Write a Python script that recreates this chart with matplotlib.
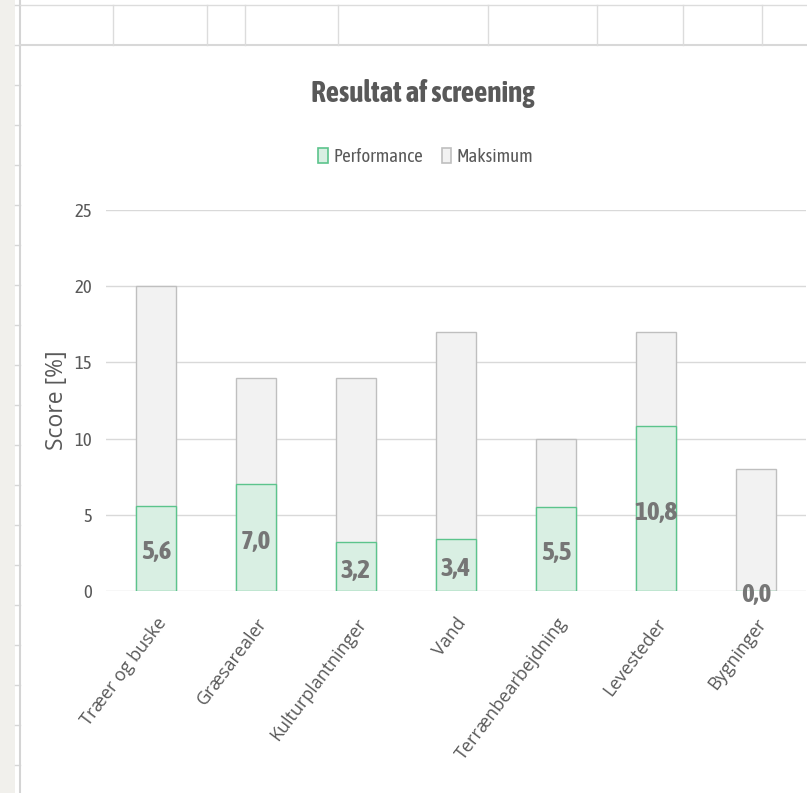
import matplotlib
matplotlib.use("Agg")
import matplotlib.pyplot as plt
from matplotlib.patches import Patch, Rectangle

# ---- data ----
categories = ["Træer og buske", "Græsarealer", "Kulturplantninger", "Vand",
              "Terrænbearbejdning", "Levesteder", "Bygninger"]
performance = [5.6, 7.0, 3.2, 3.4, 5.5, 10.8, 0.0]
maksimum = [20, 14, 14, 17, 10, 17, 8]
yticks = [0, 5, 10, 15, 20, 25]
title = "Resultat af screening"
ylabel = "Score [%]"
series_names = ["Performance", "Maksimum"]

NARROW = ["Asap Condensed", "DejaVu Sans"]
REG = ["Open Sans", "DejaVu Sans"]
TXT = "#595959"
LBL = "#767676"
PERF_FC, PERF_EC = "#d9efe3", "#5cc48c"
MAX_FC, MAX_EC = "#f2f2f2", "#bfbfbf"

W, H = 807, 793
fig = plt.figure(figsize=(W / 100, H / 100), dpi=100)
fig.patch.set_facecolor("white")

# ---- spreadsheet surroundings (decoration) ----
bg = fig.add_axes([0, 0, 1, 1], zorder=-10)
bg.set_xlim(0, W)
bg.set_ylim(H, 0)
bg.axis("off")
bg.add_patch(Rectangle((0, 0), 15, H, color="#f1f0ec", lw=0))
for yy in range(5, H, 40):
    bg.plot([15, 20], [yy, yy], color="#d6d6d6", lw=1)
bg.plot([20, 20], [0, H], color="#d4d4d4", lw=1.5)
bg.plot([20, W], [5, 5], color="#dcdcdc", lw=1)
bg.plot([20, W], [45, 45], color="#d8d8d8", lw=1.5)
for xx in [113, 207, 245, 338, 488, 597, 683, 762]:
    bg.plot([xx, xx], [5, 45], color="#dcdcdc", lw=1)

# ---- chart ----
ax = fig.add_axes([106 / W, (H - 591) / H, 700 / W, (591 - 210) / H])
x = list(range(len(categories)))
ax.bar(x, maksimum, width=0.4, color=MAX_FC, edgecolor=MAX_EC, lw=1, zorder=2)
ax.bar(x, performance, width=0.4, color=PERF_FC, edgecolor=PERF_EC, lw=1, zorder=3)

for xi, v in zip(x, performance):
    ax.annotate(f"{v:.1f}".replace(".", ","), xy=(xi, v / 2), xytext=(0, -2.5),
                textcoords="offset points", ha="center", va="center",
                fontsize=19.5, fontweight="bold", color=LBL, family=NARROW, zorder=5)

ax.set_xlim(-0.5, len(categories) - 0.5)
ax.set_ylim(0, 25)
ax.set_yticks(yticks)
ax.set_yticklabels([str(t) for t in yticks], family=NARROW, fontsize=13.5, color=TXT)
ax.set_xticks(x)
ax.set_xticklabels(categories, rotation=53, ha="right", rotation_mode="anchor",
                   family=REG, fontsize=13, color=TXT)
ax.tick_params(axis="both", length=0)
ax.tick_params(axis="y", pad=10)
ax.tick_params(axis="x", pad=17)
ax.grid(axis="y", color="#d9d9d9", lw=1, zorder=0)
ax.set_axisbelow(True)
for s in ax.spines.values():
    s.set_visible(False)
ax.set_facecolor("none")

ax.set_ylabel(ylabel, family=REG, fontsize=16.5, color=TXT)
ax.yaxis.set_label_coords(-0.053, 0.5)

fig.text(423 / W, (H - 93) / H, title, ha="center", va="center",
         family=NARROW, fontsize=21, fontweight="bold", color=TXT)

handles = [Patch(facecolor=PERF_FC, edgecolor=PERF_EC, lw=1.2),
           Patch(facecolor=MAX_FC, edgecolor=MAX_EC, lw=1.2)]
leg = fig.legend(handles, series_names, loc="center",
                 bbox_to_anchor=(426 / W, (H - 157) / H), ncol=2, frameon=False,
                 prop={"family": NARROW, "size": 13.5}, handlelength=0.5,
                 handleheight=0.85, handletextpad=0.3, columnspacing=1.0)
for t in leg.get_texts():
    t.set_color(TXT)

fig.savefig("out.png", dpi=100, facecolor="white")
